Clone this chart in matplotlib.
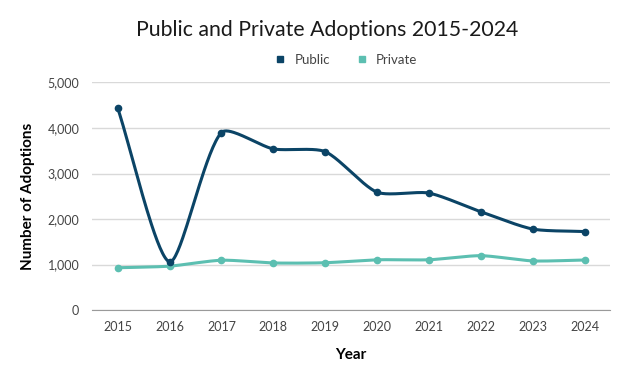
import matplotlib
matplotlib.use("Agg")
import matplotlib.pyplot as plt
from matplotlib.lines import Line2D
import numpy as np

years = [2015, 2016, 2017, 2018, 2019, 2020, 2021, 2022, 2023, 2024]
public = [4440, 1060, 3900, 3540, 3480, 2590, 2570, 2160, 1780, 1725]
private = [930, 965, 1095, 1035, 1040, 1105, 1105, 1195, 1080, 1100]

PUBLIC_COLOR = "#0b4466"
PRIVATE_COLOR = "#5cbfb1"

# rough pixel scale of the plot, used so smoothing behaves like a spreadsheet chart
X_PX = 51.9
Y_PX = 0.0455


def smooth(x, y, steps=40, tension=0.24):
    # bezier smoothing, control arms scaled by neighbouring segment lengths
    p = np.column_stack([np.asarray(x, float) * X_PX, np.asarray(y, float) * Y_PX])
    p = np.vstack([p[0], p, p[-1]])
    t = np.linspace(0, 1, steps)[:, None]
    out = []
    for i in range(1, len(p) - 2):
        p0, p1, p2, p3 = p[i - 1], p[i], p[i + 1], p[i + 2]
        d01 = np.linalg.norm(p1 - p0)
        d12 = np.linalg.norm(p2 - p1)
        d23 = np.linalg.norm(p3 - p2)
        c1 = p1 + (p2 - p0) * tension * d12 / (d01 + d12)
        c2 = p2 - (p3 - p1) * tension * d12 / (d12 + d23)
        seg = (1 - t) ** 3 * p1 + 3 * (1 - t) ** 2 * t * c1 + 3 * (1 - t) * t ** 2 * c2 + t ** 3 * p2
        out.append(seg)
    out = np.vstack(out)
    return out[:, 0] / X_PX, out[:, 1] / Y_PX


plt.rcParams["font.family"] = ["Lato", "DejaVu Sans"]

fig = plt.figure(figsize=(6.3, 3.8), dpi=100)
ax = fig.add_axes([0.1456, 0.184, 0.8234, 0.599])

pos = np.arange(len(years))
for vals, color in [(private, PRIVATE_COLOR), (public, PUBLIC_COLOR)]:
    sx, sy = smooth(pos, vals)
    ax.plot(sx, sy, color=color, lw=2.2, solid_capstyle="round", zorder=3)
    ax.plot(pos, vals, "o", color=color, ms=4.5, zorder=4)

ax.set_xlim(-0.5, len(years) - 0.5)
ax.set_ylim(0, 5000)
ax.set_yticks(range(0, 5001, 1000))
ax.set_yticklabels([f"{v:,}" for v in range(0, 5001, 1000)])
ax.set_xticks(pos)
ax.set_xticklabels([str(y) for y in years])

ax.grid(axis="y", color="#d9d9d9", lw=1)
ax.set_axisbelow(True)
for s in ["top", "right", "left"]:
    ax.spines[s].set_visible(False)
ax.spines["bottom"].set_color("#9a9a9a")
ax.tick_params(axis="both", length=0, labelsize=9, colors="#444444")
ax.tick_params(axis="x", pad=8)
ax.tick_params(axis="y", pad=9)

ax.set_ylabel("Number of Adoptions", fontsize=11, fontweight="bold", labelpad=9)
ax.set_xlabel("Year", fontsize=11, fontweight="bold", labelpad=11)

fig.text(0.52, 0.92, "Public and Private Adoptions 2015-2024", ha="center", va="center",
         fontsize=15.3, color="#1a1a1a")

handles = [Line2D([], [], marker="s", ls="", color=PUBLIC_COLOR, ms=5, label="Public"),
           Line2D([], [], marker="s", ls="", color=PRIVATE_COLOR, ms=5, label="Private")]
fig.legend(handles=handles, loc="center", bbox_to_anchor=(0.543, 0.842), ncol=2, frameon=False,
           fontsize=9.5, handletextpad=0.1, columnspacing=1.4, labelcolor="#444444")

fig.savefig("out.png", dpi=100)
